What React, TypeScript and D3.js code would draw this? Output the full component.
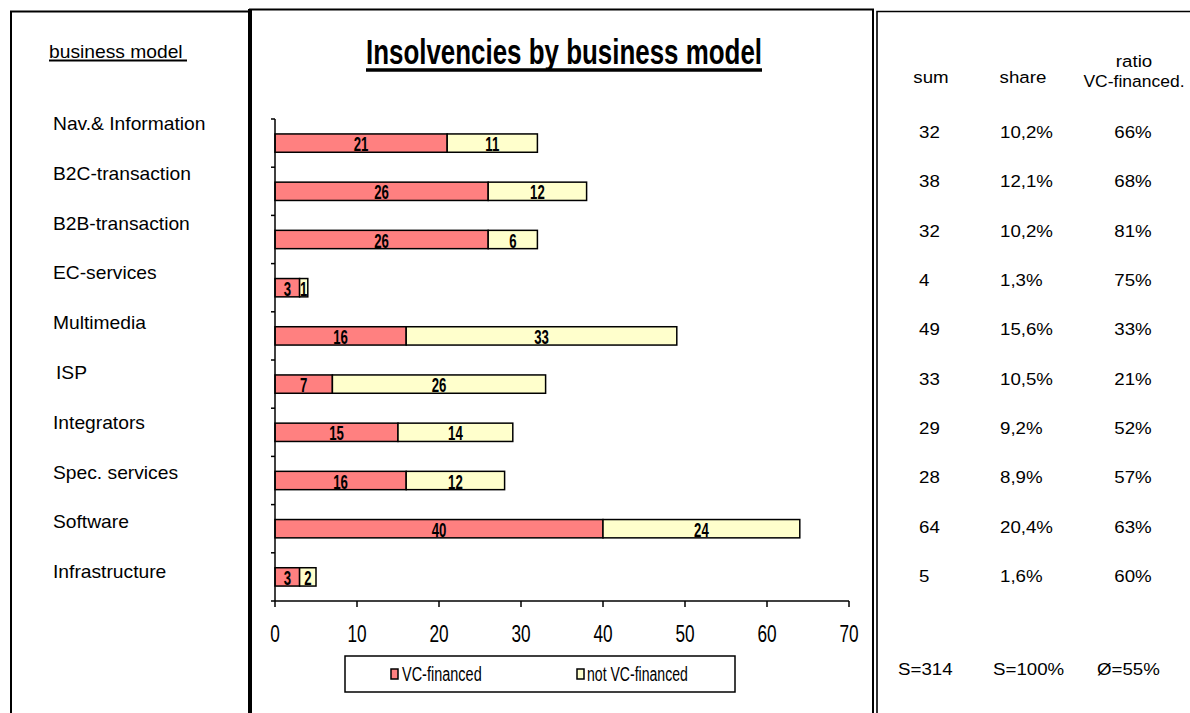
import React from "react";
import * as d3 from "d3";

const categories = [
  "Nav.& Information",
  "B2C-transaction",
  "B2B-transaction",
  "EC-services",
  "Multimedia",
  "ISP",
  "Integrators",
  "Spec. services",
  "Software",
  "Infrastructure",
];
const vcFinanced = [21, 26, 26, 3, 16, 7, 15, 16, 40, 3];
const notVcFinanced = [11, 12, 6, 1, 33, 26, 14, 12, 24, 2];
const sums = ["32", "38", "32", "4", "49", "33", "29", "28", "64", "5"];
const shares = ["10,2%", "12,1%", "10,2%", "1,3%", "15,6%", "10,5%", "9,2%", "8,9%", "20,4%", "1,6%"];
const ratios = ["66%", "68%", "81%", "75%", "33%", "21%", "52%", "57%", "63%", "60%"];
const xTicks = [0, 10, 20, 30, 40, 50, 60, 70];
const seriesNames = ["VC-financed", "not VC-financed"];
const totals = ["S=314", "S=100%", "Ø=55%"];

const W = 1190;
const H = 713;
const FONT = "'Liberation Sans', Arial, sans-serif";
const RED = "#FF8080";
const YELLOW = "#FFFFCC";

type TProps = {
  x: number;
  y: number;
  sx: number;
  size: number;
  anchor?: "start" | "middle" | "end";
  bold?: boolean;
  children: React.ReactNode;
};

function T({ x, y, sx, size, anchor = "start", bold = false, children }: TProps) {
  return (
    <text
      transform={`translate(${x},${y}) scale(${sx},1)`}
      dy="0.35em"
      textAnchor={anchor}
      fontFamily={FONT}
      fontWeight={bold ? "bold" : "normal"}
      fontSize={size}
      fill="#000"
    >
      {children}
    </text>
  );
}

export default function App() {
  const x = d3.scaleLinear().domain([0, 70]).range([275, 849]);
  const y = d3
    .scaleBand<string>()
    .domain(categories)
    .range([119, 601])
    .paddingInner(0.62)
    .paddingOuter(0.31);
  const step = y.step();
  const boundaries = d3.range(categories.length + 1).map((i) => 119 + i * step);

  const leftRow = d3.scaleLinear().domain([0, categories.length - 1]).range([124, 572]);
  const rightRow = d3.scaleLinear().domain([0, categories.length - 1]).range([132, 576]);

  const AS = 1.1; // horizontal stretch of regular text
  const NS = 0.72; // horizontal squeeze of narrow text

  return (
    <svg
      width={W}
      height={H}
      viewBox={`0 0 ${W} ${H}`}
      style={{ position: "absolute", left: 0, top: 0, background: "#fff" }}
    >
      <rect x={0} y={0} width={W} height={H} fill="#fff" />
      {/* frames */}
      <g stroke="#000" fill="none">
        <path d={`M11,${H} V11.5 H249`} strokeWidth={2} />
        <path d={`M250,${H} V9.5 H873 V${H}`} strokeWidth={2} />
        <line x1={250} x2={250} y1={9} y2={H} strokeWidth={4} />
        <path d={`M877,${H} V11.5 H${W}`} strokeWidth={1.6} />
      </g>

      {/* left column */}
      <T x={49} y={52} sx={AS} size={17.5}>business model</T>
      <line x1={49} x2={187} y1={60.5} y2={60.5} stroke="#000" strokeWidth={2} />
      {categories.map((c, i) => (
        <T key={c} x={c === "ISP" ? 56 : 53} y={leftRow(i)} sx={AS} size={17.5}>
          {c}
        </T>
      ))}

      {/* title */}
      <T x={564} y={51} sx={NS} size={36} anchor="middle" bold>
        Insolvencies by business model
      </T>
      <line x1={366} x2={762} y1={70} y2={70} stroke="#000" strokeWidth={3.5} />

      {/* bars */}
      {categories.map((c, i) => {
        const y0 = y(c)!;
        const bh = y.bandwidth();
        const a = vcFinanced[i];
        const b = notVcFinanced[i];
        return (
          <g key={c}>
            <rect x={x(0)} y={y0} width={x(a) - x(0)} height={bh} fill={RED} stroke="#000" strokeWidth={1.5} />
            <rect x={x(a)} y={y0} width={x(a + b) - x(a)} height={bh} fill={YELLOW} stroke="#000" strokeWidth={1.5} />
            <T x={(x(0) + x(a)) / 2} y={y0 + bh / 2 + 1} sx={0.66} size={20} anchor="middle" bold>
              {a}
            </T>
            <T x={(x(a) + x(a + b)) / 2} y={y0 + bh / 2 + 1} sx={0.66} size={20} anchor="middle" bold>
              {b}
            </T>
          </g>
        );
      })}

      {/* axes */}
      <g stroke="#000" strokeWidth={1.5}>
        <line x1={x(0)} x2={x(0)} y1={119} y2={601} />
        {boundaries.map((b, i) => (
          <line key={i} x1={x(0) - 4} x2={x(0)} y1={b} y2={b} />
        ))}
        <line x1={x(0)} x2={x(70)} y1={601} y2={601} />
        {xTicks.map((t) => (
          <line key={t} x1={x(t)} x2={x(t)} y1={601} y2={607} />
        ))}
      </g>
      {xTicks.map((t) => (
        <T key={t} x={x(t)} y={634} sx={0.75} size={23} anchor="middle">
          {t}
        </T>
      ))}

      {/* legend */}
      <rect x={345} y={656} width={390} height={36} fill="#fff" stroke="#000" strokeWidth={1.5} />
      <rect x={391} y={669} width={7} height={10} fill={RED} stroke="#000" strokeWidth={1.5} />
      <T x={402} y={674} sx={0.69} size={21}>{seriesNames[0]}</T>
      <rect x={577} y={669} width={7} height={10} fill={YELLOW} stroke="#000" strokeWidth={1.5} />
      <T x={587} y={674} sx={0.67} size={21}>{seriesNames[1]}</T>

      {/* right table */}
      <T x={931} y={77} sx={AS} size={17} anchor="middle">sum</T>
      <T x={1023} y={77} sx={AS} size={17} anchor="middle">share</T>
      <T x={1134} y={61} sx={AS} size={17} anchor="middle">ratio</T>
      <T x={1134} y={81} sx={1.03} size={17} anchor="middle">VC-financed.</T>
      {sums.map((s, i) => (
        <T key={"s" + i} x={919} y={rightRow(i)} sx={AS} size={17}>{s}</T>
      ))}
      {shares.map((s, i) => (
        <T key={"h" + i} x={1000} y={rightRow(i)} sx={AS} size={17}>{s}</T>
      ))}
      {ratios.map((s, i) => (
        <T key={"r" + i} x={1133} y={rightRow(i)} sx={AS} size={17} anchor="middle">{s}</T>
      ))}
      <T x={898} y={669} sx={AS} size={17}>{totals[0]}</T>
      <T x={993} y={669} sx={AS} size={17}>{totals[1]}</T>
      <T x={1097} y={669} sx={AS} size={17}>{totals[2]}</T>
    </svg>
  );
}
